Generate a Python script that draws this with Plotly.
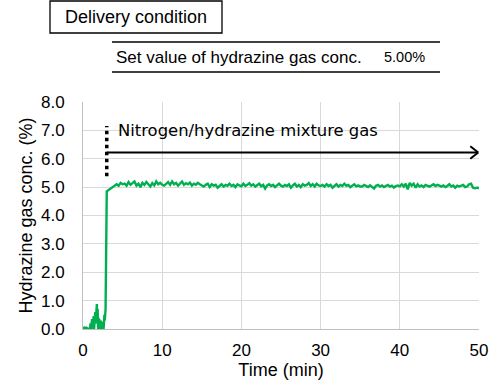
import plotly.graph_objects as go

# ---- data ----
early_step = 0.05
early_values = [0.03, 0.04, 0.03, 0.04, 0.05, 0.04, 0.03, 0.04, 0.05, 0.04, 0.03, 0.02,
                0.0, 0.0, 0.0, 0.0, 0.0, 0.0, 0.05,
                0.2, 0.0, 0.3, 0.05, 0.35, 0.0, 0.3, 0.1, 0.45, 0.0, 0.5, 0.1, 0.6, 0.2,
                0.75, 0.3, 0.88, 0.2, 0.7, 0.0, 0.4, 0.1, 0.35, 0.0, 0.3, 0.05, 0.3, 0.0,
                0.25, 0.0, 0.15, 0.0, 0.1, 0.0, 0.2, 0.5, 0.3, 0.6, 0.7]
main_start = 3.0
main_step = 0.25
main_values = [
    4.85, 4.90, 4.95, 5.00, 5.05, 5.10, 5.05, 5.15, 5.10,
    5.12, 5.05, 5.18, 5.08, 5.15, 5.20, 5.05, 5.12, 5.00, 5.15, 5.08, 5.18, 5.10, 5.02, 5.14, 5.06, 5.20, 5.10, 5.15, 5.08,
    5.05, 5.12, 5.18, 5.08, 5.20, 5.10, 5.15, 5.05, 5.12, 5.20, 5.08, 5.14, 5.10, 5.16, 5.05, 5.12, 5.08, 5.15, 5.10, 5.06,
    5.02, 5.08, 5.12, 5.00, 5.10, 5.05, 5.08, 4.98, 5.06, 5.10, 5.02, 5.08, 5.05, 5.12, 5.04, 5.08, 5.00, 5.10, 5.06, 5.03,
    5.12, 5.04, 5.08, 5.14, 5.05, 5.10, 5.02, 5.06, 5.12, 5.03, 5.08, 4.95, 5.06, 5.10, 5.04, 5.08, 5.00, 5.06, 5.12, 5.05,
    5.02, 5.08, 5.04, 5.10, 4.98, 5.06, 5.12, 5.02, 5.08, 5.00, 5.10, 5.05, 5.08, 5.14, 5.04, 5.10, 5.02, 5.12, 5.06, 5.04,
    5.08, 5.02, 5.10, 5.04, 5.08, 4.98, 5.06, 5.10, 5.02, 5.08, 5.04, 5.12, 5.05, 5.08, 5.00, 5.06, 5.10, 5.03, 5.06, 5.02,
    5.02, 5.08, 5.04, 5.00, 5.06, 5.02, 4.95, 5.05, 5.08, 5.02, 5.06, 5.00, 5.04, 5.08, 5.02, 5.05, 4.98, 5.04, 5.06, 5.03,
    5.10, 5.02, 5.12, 4.92, 5.15, 5.05, 5.12, 4.98, 5.10, 5.02, 5.06, 5.00, 5.08, 5.04, 5.02, 5.06, 5.10, 5.04, 5.08, 5.05,
    5.02, 5.06, 5.00, 5.04, 5.10, 5.02, 5.06, 4.98, 5.05, 5.02, 5.04, 5.08, 5.00, 5.02, 5.10, 5.12, 4.98, 4.96, 4.98, 4.97,
]
x_ticks = [0, 10, 20, 30, 40, 50]
y_ticks = [0, 1, 2, 3, 4, 5, 6, 7, 8]

early_time = [round(early_step * i, 3) for i in range(len(early_values))]
main_time = [round(main_start + main_step * i, 3) for i in range(len(main_values))]
time = early_time + main_time
conc = early_values + main_values

GREEN = "#00b050"
FONT = "Liberation Sans, Arial, sans-serif"

fig = go.Figure()
fig.add_trace(go.Scatter(x=time, y=conc, mode="lines",
                         line=dict(color=GREEN, width=2.4), showlegend=False,
                         hoverinfo="skip"))

W, H = 490, 386
L, R, T, B = 83, 11, 102, 57
pw, ph = W - L - R, H - T - B


def px(x):
    return (x - L) / pw


def py(y):
    return (H - B - y) / ph


shapes = [
    dict(type="rect", xref="paper", yref="paper", x0=px(50), x1=px(222), y0=py(33), y1=py(1),
         line=dict(color="black", width=1.3)),
    dict(type="line", xref="paper", yref="paper", x0=px(112), x1=px(440), y0=py(42), y1=py(42),
         line=dict(color="black", width=1.5)),
    dict(type="line", xref="paper", yref="paper", x0=px(112), x1=px(440), y0=py(72), y1=py(72),
         line=dict(color="black", width=1.5)),
    dict(type="line", xref="x", yref="y", x0=3.0, x1=3.0, y0=5.38, y1=7.15,
         line=dict(color="black", width=3.5, dash="dot")),
    dict(type="line", xref="x", yref="y", x0=3.0, x1=49.9, y0=6.22, y1=6.22,
         line=dict(color="black", width=2)),
    dict(type="line", xref="x", yref="y", x0=48.9, x1=49.9, y0=6.44, y1=6.22,
         line=dict(color="black", width=2)),
    dict(type="line", xref="x", yref="y", x0=48.9, x1=49.9, y0=6.00, y1=6.22,
         line=dict(color="black", width=2)),
]

annotations = [
    dict(text="Delivery condition", xref="paper", yref="paper", x=px(136), y=py(17),
         xanchor="center", yanchor="middle", showarrow=False,
         font=dict(family=FONT, size=18, color="black")),
    dict(text="Set value of hydrazine gas conc.", xref="paper", yref="paper", x=px(114), y=py(57),
         xanchor="left", yanchor="middle", showarrow=False,
         font=dict(family=FONT, size=17, color="black")),
    dict(text="5.00%", xref="paper", yref="paper", x=px(382), y=py(57),
         xanchor="left", yanchor="middle", showarrow=False,
         font=dict(family=FONT, size=14.5, color="black")),
    dict(text="Nitrogen/hydrazine mixture gas", xref="x", yref="y", x=4.2, y=7.0,
         xanchor="left", yanchor="middle", showarrow=False,
         font=dict(family="DejaVu Sans, Verdana, sans-serif", size=16.4, color="black")),
]

fig.update_layout(
    width=W, height=H,
    margin=dict(l=L, r=R, t=T, b=B, pad=0, autoexpand=False),
    paper_bgcolor="white", plot_bgcolor="white",
    shapes=shapes, annotations=annotations,
    font=dict(family=FONT, size=16, color="black"),
    xaxis=dict(range=[0, 50], tickvals=x_ticks, ticktext=[str(v) for v in x_ticks],
               showgrid=True, gridcolor="#d9d9d9", gridwidth=1, automargin=False,
               showline=True, linecolor="#bfbfbf", linewidth=1, zeroline=False,
               ticks="", ticklabelstandoff=6,
               tickfont=dict(family=FONT, size=17, color="black"),
               title=dict(text="Time (min)", font=dict(family=FONT, size=18, color="black"),
                          standoff=2)),
    yaxis=dict(range=[0, 8], tickvals=y_ticks, ticktext=[f"{v:.1f}" for v in y_ticks],
               showgrid=True, gridcolor="#d9d9d9", gridwidth=1, automargin=False,
               showline=True, linecolor="#bfbfbf", linewidth=1, zeroline=False,
               ticks="", ticklabelstandoff=14,
               tickfont=dict(family=FONT, size=17, color="black"),
               title=dict(text="Hydrazine gas conc. (%)",
                          font=dict(family=FONT, size=18, color="black"), standoff=3)),
)

fig.write_html("out.html", config={"displayModeBar": False},
               post_script="document.body.style.margin='0px';")
